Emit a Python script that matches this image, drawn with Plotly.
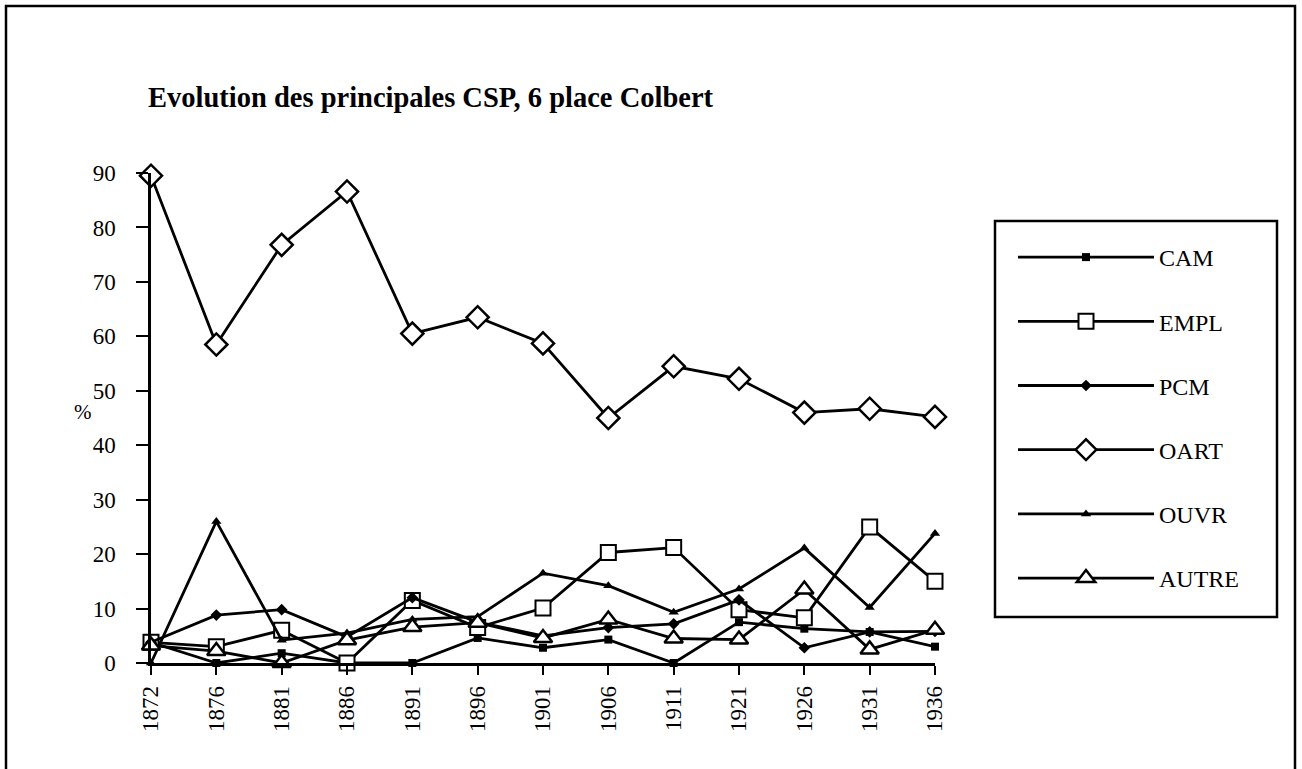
import plotly.graph_objects as go

# Census years (category axis)
years = ["1872", "1876", "1881", "1886", "1891", "1896", "1901",
         "1906", "1911", "1921", "1926", "1931", "1936"]

# Share of each socio-professional category (%)
cam = [3.8, 0.0, 1.8, 0.0, 0.0, 4.6, 2.8, 4.3, 0.0, 7.5, 6.3, 5.7, 3.0]
empl = [3.8, 3.0, 6.0, 0.0, 11.5, 6.5, 10.1, 20.3, 21.2, 9.8, 8.3, 25.0, 15.0]
pcm = [3.8, 8.8, 9.8, 4.8, 12.0, 7.5, 5.0, 6.5, 7.2, 11.6, 2.8, 5.7, 5.8]
oart = [89.5, 58.5, 76.8, 86.6, 60.5, 63.5, 58.7, 45.0, 54.5, 52.2, 46.0, 46.7, 45.2]
ouvr = [0.0, 26.0, 4.2, 5.5, 8.0, 8.5, 16.5, 14.2, 9.3, 13.6, 21.1, 10.2, 23.8]
autre = [3.2, 2.2, 0.0, 4.2, 6.6, 7.4, 4.6, 8.0, 4.5, 4.3, 13.5, 2.5, 6.1]

y_ticks = [0, 10, 20, 30, 40, 50, 60, 70, 80, 90]

SERIF = "Liberation Serif"
INK = "black"

series = [
    ("CAM", cam, dict(symbol="square", size=8, color=INK)),
    ("EMPL", empl, dict(symbol="square", size=15, color="white",
                        line=dict(color=INK, width=2))),
    ("PCM", pcm, dict(symbol="diamond", size=9, color=INK)),
    ("OART", oart, dict(symbol="diamond", size=17, color="white",
                        line=dict(color=INK, width=2.5))),
    ("OUVR", ouvr, dict(symbol="triangle-up", size=9, color=INK)),
    ("AUTRE", autre, dict(symbol="triangle-up", size=16, color="white",
                          line=dict(color=INK, width=2.5))),
]

fig = go.Figure()
for name, vals, mk in series:
    fig.add_trace(go.Scatter(
        x=years, y=vals, name=name, mode="lines+markers",
        line=dict(color=INK, width=2.8), marker=mk,
        legendgroup=name, cliponaxis=False,
    ))

axis_font = dict(family=SERIF, size=23, color=INK)

W, H = 1302, 769
fig.update_layout(
    width=W, height=H,
    margin=dict(l=151, r=367, t=173, b=106),
    paper_bgcolor="white", plot_bgcolor="white",
    title=dict(
        text="<b>Evolution des principales CSP, 6 place Colbert</b>",
        font=dict(family=SERIF, size=28.5, color=INK),
        xref="container", x=148 / W, xanchor="left",
        yref="container", y=1 - 97 / H, yanchor="middle",
    ),
    xaxis=dict(
        type="category", categoryorder="array", categoryarray=years,
        range=[0, len(years) - 1], showgrid=False, zeroline=False,
        showline=True, linecolor=INK, linewidth=2.5,
        ticks="outside", ticklen=9, tickwidth=2, tickcolor=INK,
        tickangle=-90, tickfont=axis_font, ticklabelstandoff=2,
    ),
    yaxis=dict(
        range=[0, 90], tickvals=y_ticks, showgrid=False, zeroline=False,
        showline=True, linecolor=INK, linewidth=2.5,
        ticks="outside", ticklen=12, tickwidth=2, tickcolor=INK,
        tickfont=axis_font, ticklabelstandoff=16,
    ),
    # companion axes carrying the inner half of the crossing tick marks
    xaxis2=dict(
        overlaying="x", anchor="y", range=[0, len(years) - 1],
        tickvals=list(range(len(years))), showticklabels=False,
        showgrid=False, zeroline=False, showline=False,
        ticks="inside", ticklen=9, tickwidth=2, tickcolor=INK,
    ),
    yaxis2=dict(
        overlaying="y", anchor="x", range=[0, 90], tickvals=y_ticks,
        showticklabels=False, showgrid=False, zeroline=False, showline=False,
        ticks="inside", ticklen=7, tickwidth=2, tickcolor=INK,
    ),
    legend=dict(
        xref="container", x=1013 / W, xanchor="left",
        yref="container", y=1 - 235 / H, yanchor="top",
        bgcolor="rgba(0,0,0,0)", borderwidth=0,
        font=dict(family=SERIF, size=24, color=INK),
        tracegroupgap=30, itemwidth=136, maxheight=700,
    ),
    showlegend=True,
)

fig.add_annotation(
    text="%", xref="paper", yref="paper",
    x=(72 - 151) / 784, y=(663 - 412) / 490,
    showarrow=False, font=dict(family=SERIF, size=21, color=INK),
)

# legend box
fig.add_shape(
    type="rect", xref="paper", yref="paper",
    x0=(995 - 151) / 784, x1=(1277 - 151) / 784,
    y0=(663 - 617) / 490, y1=(663 - 221) / 490,
    line=dict(color=INK, width=2.5), fillcolor="white", layer="below",
)

# outer frame around the whole chart area
fig.add_shape(
    type="rect", xref="paper", yref="paper",
    x0=(6 - 151) / 784, x1=(1295 - 151) / 784,
    y0=(663 - 780) / 490, y1=(663 - 6) / 490,
    line=dict(color=INK, width=2.5), fillcolor="rgba(0,0,0,0)", layer="below",
)

fig.write_html("out.html")
